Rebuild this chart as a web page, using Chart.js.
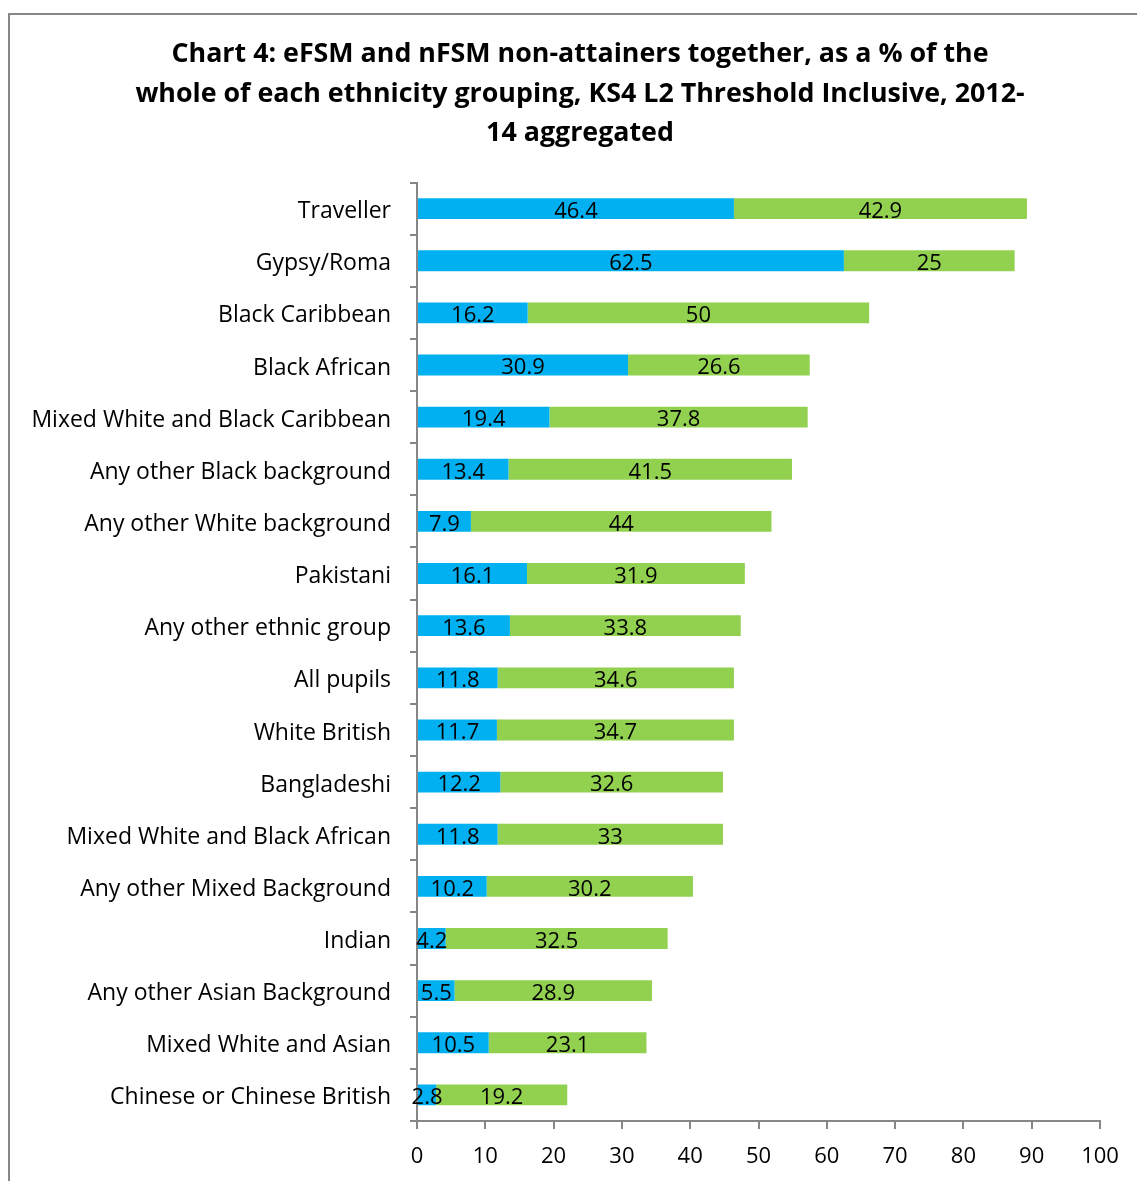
<!DOCTYPE html>
<html>
<head>
<meta charset="utf-8">
<script src="https://cdn.jsdelivr.net/npm/chart.js@4/dist/chart.umd.min.js"></script>
<style>
  html, body { margin: 0; padding: 0; background: #fff; overflow: hidden; }
  #frame {
    position: absolute; left: 8px; top: 13px;
    width: 1140px; height: 1166px;
    border-left: 2px solid #878787; border-top: 2px solid #878787;
  }
</style>
</head>
<body>
<div id="frame"><canvas id="chart" width="1140" height="1166"></canvas></div>
<script>
const categories = [
    "Traveller", "Gypsy/Roma", "Black Caribbean", "Black African",
    "Mixed White and Black Caribbean", "Any other Black background",
    "Any other White background", "Pakistani", "Any other ethnic group",
    "All pupils", "White British", "Bangladeshi", "Mixed White and Black African",
    "Any other Mixed Background", "Indian", "Any other Asian Background",
    "Mixed White and Asian", "Chinese or Chinese British"
];
const efsm = [46.4, 62.5, 16.2, 30.9, 19.4, 13.4, 7.9, 16.1, 13.6, 11.8, 11.7, 12.2, 11.8, 10.2, 4.2, 5.5, 10.5, 2.8];
const nfsm = [42.9, 25, 50, 26.6, 37.8, 41.5, 44, 31.9, 33.8, 34.6, 34.7, 32.6, 33, 30.2, 32.5, 28.9, 23.1, 19.2];
const titleLines = [
    "Chart 4: eFSM and nFSM non-attainers together, as a % of the",
    "whole of each ethnicity grouping, KS4 L2 Threshold Inclusive, 2012-",
    "14 aggregated"
];

const FONT = "'Open Sans', sans-serif";
const AXIS_GREY = "#878787";

// write each value in the middle of its bar segment
const segmentLabels = {
    id: "segmentLabels",
    afterDatasetsDraw(chart) {
        const ctx = chart.ctx;
        ctx.save();
        ctx.font = "22px " + FONT;
        ctx.fillStyle = "#000";
        ctx.textAlign = "center";
        ctx.textBaseline = "middle";
        chart.data.datasets.forEach((ds, i) => {
            chart.getDatasetMeta(i).data.forEach((bar, j) => {
                const x = (bar.x + bar.base) / 2;
                ctx.fillText(String(ds.data[j]), x, bar.y + 3);
            });
        });
        ctx.restore();
    }
};

// long category names run into the left padding; widen the label clip box
const labelRoom = {
    id: "labelRoom",
    afterLayout(chart) {
        chart.scales.y.left = 0;
    }
};

new Chart(document.getElementById("chart"), {
    type: "bar",
    data: {
        labels: categories,
        datasets: [
            { label: "eFSM", data: efsm, backgroundColor: "#00B0F0" },
            { label: "nFSM", data: nfsm, backgroundColor: "#92D050" }
        ]
    },
    options: {
        indexAxis: "y",
        responsive: false,
        animation: false,
        layout: { padding: { left: 50, right: 50, top: 0, bottom: 0 } },
        datasets: { bar: { barPercentage: 0.4, categoryPercentage: 1 } },
        scales: {
            x: {
                stacked: true,
                min: 0, max: 100,
                ticks: { stepSize: 10, color: "#000", font: { family: FONT, size: 22 }, padding: 15 },
                grid: { drawOnChartArea: false, drawTicks: true, tickLength: 8, color: AXIS_GREY, lineWidth: 2 },
                border: { color: AXIS_GREY, width: 2 },
                afterFit(scale) { scale.height = 60; }
            },
            y: {
                stacked: true,
                ticks: { color: "#000", font: { family: FONT, size: 23 }, padding: 19, labelOffset: 3 },
                grid: { drawOnChartArea: false, drawTicks: true, tickLength: 7, color: AXIS_GREY, lineWidth: 2, offset: true },
                border: { color: AXIS_GREY, width: 2 },
                afterFit(scale) { scale.width = 357; }
            }
        },
        plugins: {
            legend: { display: false },
            tooltip: { enabled: false },
            title: {
                display: true,
                text: titleLines,
                color: "#000",
                font: { family: FONT, size: 26.8, weight: "bold", lineHeight: 1.474 },
                padding: { top: 20, bottom: 29 }
            }
        }
    },
    plugins: [segmentLabels, labelRoom]
});
</script>
</body>
</html>
